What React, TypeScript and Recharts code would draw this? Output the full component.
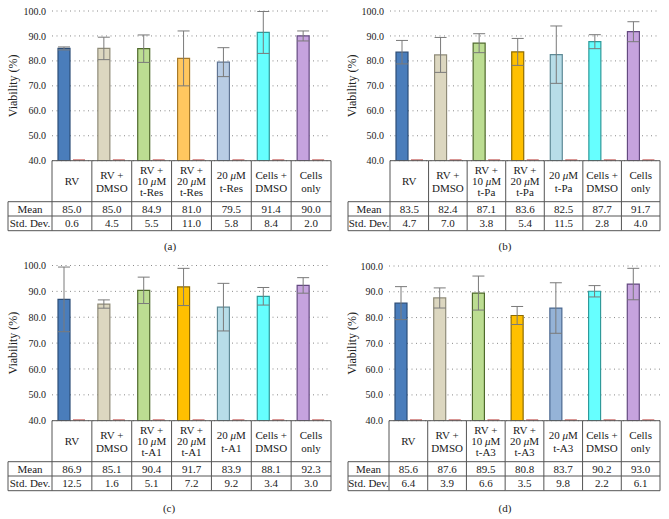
import React from 'react';
import { BarChart, Bar, XAxis, YAxis, CartesianGrid, ErrorBar, Cell } from 'recharts';

const yTicks = [40, 50, 60, 70, 80, 90, 100];

const categoriesA = ['RV', 'RV +\nDMSO', 'RV +\n10 μM\nt-Res', 'RV +\n20 μM\nt-Res', '20 μM\nt-Res', 'Cells +\nDMSO', 'Cells\nonly'];
const meanA = [85.0, 85.0, 84.9, 81.0, 79.5, 91.4, 90.0];
const stdA = [0.6, 4.5, 5.5, 11.0, 5.8, 8.4, 2.0];

const categoriesB = ['RV', 'RV +\nDMSO', 'RV +\n10 μM\nt-Pa', 'RV +\n20 μM\nt-Pa', '20 μM\nt-Pa', 'Cells +\nDMSO', 'Cells\nonly'];
const meanB = [83.5, 82.4, 87.1, 83.6, 82.5, 87.7, 91.7];
const stdB = [4.7, 7.0, 3.8, 5.4, 11.5, 2.8, 4.0];

const categoriesC = ['RV', 'RV +\nDMSO', 'RV +\n10 μM\nt-A1', 'RV +\n20 μM\nt-A1', '20 μM\nt-A1', 'Cells +\nDMSO', 'Cells\nonly'];
const meanC = [86.9, 85.1, 90.4, 91.7, 83.9, 88.1, 92.3];
const stdC = [12.5, 1.6, 5.1, 7.2, 9.2, 3.4, 3.0];

const categoriesD = ['RV', 'RV +\nDMSO', 'RV +\n10 μM\nt-A3', 'RV +\n20 μM\nt-A3', '20 μM\nt-A3', 'Cells +\nDMSO', 'Cells\nonly'];
const meanD = [85.6, 87.6, 89.5, 80.8, 83.7, 90.2, 93.0];
const stdD = [6.4, 3.9, 6.6, 3.5, 9.8, 2.2, 6.1];

const rowLabels = ['Mean', 'Std. Dev.'];

const fillsA = ['#4a7dbb', '#dcd7c0', '#bcdd92', '#ffc75f', '#b8cce4', '#66ffff', '#c6a3de'];
const fillsB = ['#4a7dbb', '#dcd7c0', '#bcdd92', '#ffc000', '#b7dde8', '#66ffff', '#c6a3de'];
const fillsC = ['#4a7dbb', '#dcd7c0', '#bcdd92', '#ffc000', '#b7dde8', '#66ffff', '#c6a3de'];
const fillsD = ['#4a7dbb', '#dcd7c0', '#bcdd92', '#ffc000', '#95b3d7', '#66ffff', '#c6a3de'];
const strokesA = ['#2c4d77', '#8f8b78', '#4f6a2c', '#a67a2a', '#5f7493', '#2f9a9a', '#644a80'];
const strokesB = ['#2c4d77', '#8f8b78', '#4f6a2c', '#8f6c00', '#5e8a96', '#2f9a9a', '#644a80'];
const strokesD = ['#2c4d77', '#8f8b78', '#4f6a2c', '#8f6c00', '#4a6890', '#2f9a9a', '#644a80'];

const FONT = 'Liberation Serif, DejaVu Serif, Noto Serif, serif';
const LINE = '#555';
const HEADER_H = 41;
const MEAN_H = 14.3;
const STD_H = 14.7;
const TABLE_H = HEADER_H + MEAN_H + STD_H;

type Cfg = {
  key: string; left: number; top: number; width: number; height: number;
  plotTop: number; plotBottom: number; plotLeft: number; plotRight: number; tableLeft: number;
  ylabelX: number; captionX: number; captionY: number; caption: string;
  categories: string[]; mean: number[]; std: number[]; fills: string[]; strokes: string[];
};

const panels: Cfg[] = [
  { key: 'a', left: 0, top: 0, width: 335, height: 260, plotTop: 11, plotBottom: 160.7, plotLeft: 52, plotRight: 331, tableLeft: 8,
    ylabelX: 13, captionX: 170, captionY: 246, caption: '(a)', categories: categoriesA, mean: meanA, std: stdA, fills: fillsA, strokes: strokesA },
  { key: 'b', left: 335, top: 0, width: 334, height: 260, plotTop: 11, plotBottom: 160.7, plotLeft: 55, plotRight: 325, tableLeft: 13,
    ylabelX: 17, captionX: 170, captionY: 246, caption: '(b)', categories: categoriesB, mean: meanB, std: stdB, fills: fillsB, strokes: strokesB },
  { key: 'c', left: 0, top: 260, width: 335, height: 259, plotTop: 5.5, plotBottom: 160.7, plotLeft: 52, plotRight: 331, tableLeft: 8,
    ylabelX: 13, captionX: 169, captionY: 248, caption: '(c)', categories: categoriesC, mean: meanC, std: stdC, fills: fillsC, strokes: strokesB },
  { key: 'd', left: 335, top: 260, width: 334, height: 259, plotTop: 6, plotBottom: 160.7, plotLeft: 54, plotRight: 325, tableLeft: 13,
    ylabelX: 17, captionX: 170, captionY: 248, caption: '(d)', categories: categoriesD, mean: meanD, std: stdD, fills: fillsD, strokes: strokesD },
];

function richText(s: string) {
  const parts = s.split('μ');
  return parts.map((p, i) => (
    <React.Fragment key={i}>
      {i > 0 && <tspan fontStyle="italic">μ</tspan>}
      {p}
    </React.Fragment>
  ));
}

function makeTick(cfg: Cfg) {
  return function TableTick(props: any) {
    const { x, y, payload } = props;
    const index = payload?.index ?? props.index ?? 0;
    const n = cfg.categories.length;
    const bw = (cfg.plotRight - cfg.plotLeft) / n;
    const l = x - bw / 2;
    const r = x + bw / 2;
    const y0 = y;
    const y1 = y0 + HEADER_H;
    const y2 = y1 + MEAN_H;
    const y3 = y2 + STD_H;
    const lines = String(cfg.categories[index]).split('\n');
    const spacing = lines.length === 3 ? 11.3 : 13;
    const hc = y0 + HEADER_H / 2;
    const fs = 11;
    const textProps = { textAnchor: 'middle' as const, fontSize: fs, fontFamily: FONT, fill: '#1a1a1a' };
    const els: any[] = [];
    els.push(<line key="t" x1={l} x2={r} y1={y0} y2={y0} stroke={LINE} />);
    els.push(<line key="h1" x1={l} x2={r} y1={y1} y2={y1} stroke={LINE} />);
    els.push(<line key="h2" x1={l} x2={r} y1={y2} y2={y2} stroke={LINE} />);
    els.push(<line key="h3" x1={l} x2={r} y1={y3} y2={y3} stroke={LINE} />);
    els.push(<line key="vr" x1={r} x2={r} y1={y0} y2={y3} stroke={LINE} />);
    lines.forEach((ln, i) => {
      const cy = hc + (i - (lines.length - 1) / 2) * spacing;
      els.push(<text key={'l' + i} x={x} y={cy + fs * 0.35} {...textProps}>{richText(ln)}</text>);
    });
    els.push(<text key="m" x={x} y={(y1 + y2) / 2 + fs * 0.35} {...textProps}>{cfg.mean[index].toFixed(1)}</text>);
    els.push(<text key="s" x={x} y={(y2 + y3) / 2 + fs * 0.35} {...textProps}>{cfg.std[index].toFixed(1)}</text>);
    if (index === 0) {
      const tl = cfg.tableLeft;
      els.push(<line key="vl" x1={l} x2={l} y1={y0} y2={y3} stroke={LINE} />);
      els.push(<line key="rl" x1={tl} x2={tl} y1={y1} y2={y3} stroke={LINE} />);
      els.push(<line key="r1" x1={tl} x2={l} y1={y1} y2={y1} stroke={LINE} />);
      els.push(<line key="r2" x1={tl} x2={l} y1={y2} y2={y2} stroke={LINE} />);
      els.push(<line key="r3" x1={tl} x2={l} y1={y3} y2={y3} stroke={LINE} />);
      els.push(<text key="rm" x={(tl + l) / 2} y={(y1 + y2) / 2 + fs * 0.35} {...textProps}>{rowLabels[0]}</text>);
      els.push(<text key="rs" x={(tl + l) / 2} y={(y2 + y3) / 2 + fs * 0.35} {...textProps}>{rowLabels[1]}</text>);
    }
    return <g>{els}</g>;
  };
}

function BaseDash(props: any) {
  const { x, y, width, height, background } = props;
  const base = background ? background.y + background.height : y + height;
  return <rect x={x} y={base - 1.3} width={width} height={1.3} fill="#c0504d" />;
}

function Panel({ cfg }: { cfg: Cfg }) {
  const data = cfg.categories.map((c, i) => ({ name: c, mean: cfg.mean[i], std: cfg.std[i] }));
  const yAxisWidth = 40;
  const margin = {
    top: cfg.plotTop,
    left: cfg.plotLeft - yAxisWidth,
    right: cfg.width - cfg.plotRight,
    bottom: cfg.height - cfg.plotBottom - TABLE_H,
  };
  const Tick = makeTick(cfg);
  return (
    <div style={{ position: 'absolute', left: cfg.left, top: cfg.top, width: cfg.width, height: cfg.height, fontFamily: FONT }}>
      <BarChart width={cfg.width} height={cfg.height} data={data} margin={margin} barGap={3} style={{ overflow: 'visible', fontFamily: FONT }}>
        <CartesianGrid vertical={false} stroke="#8a8a8a" strokeDasharray="1 3.5" />
        <YAxis
          type="number"
          domain={[40, 100]}
          ticks={yTicks}
          allowDataOverflow
          width={yAxisWidth}
          axisLine={false}
          tickLine={false}
          tickSize={4}
          tickMargin={2}
          tickFormatter={(v: number) => v.toFixed(1)}
          tick={{ fontSize: 10, fontFamily: FONT, fill: '#222' }}
          interval={0}
        />
        <XAxis
          dataKey="name"
          height={TABLE_H}
          axisLine={false}
          tickLine={false}
          tickSize={0}
          tickMargin={0}
          interval={0}
          tick={(p: any) => <Tick {...p} />}
        />
        <Bar dataKey="mean" barSize={12} strokeWidth={1.2} isAnimationActive={false}>
          {data.map((d, i) => (
            <Cell key={i} fill={cfg.fills[i]} stroke={cfg.strokes[i]} />
          ))}
          <ErrorBar dataKey="std" width={6} stroke="#7a7a7a" strokeWidth={1} direction="y" />
        </Bar>
        <Bar dataKey="std" barSize={12} fill="#c0504d" shape={(p: any) => <BaseDash {...p} />} isAnimationActive={false} />
      </BarChart>
      <svg width={cfg.width} height={cfg.height} style={{ position: 'absolute', left: 0, top: 0, pointerEvents: 'none', overflow: 'visible' }}>
        <text
          transform={`translate(${cfg.ylabelX},${(cfg.plotTop + cfg.plotBottom) / 2}) rotate(-90)`}
          textAnchor="middle"
          dominantBaseline="central"
          fontSize={12}
          fontFamily={FONT}
          fill="#222"
        >
          Viability (%)
        </text>
        <text x={cfg.captionX} y={cfg.captionY} textAnchor="middle" dominantBaseline="central" fontSize={11} fontFamily={FONT} fill="#222">
          {cfg.caption}
        </text>
      </svg>
    </div>
  );
}

export default function App() {
  return (
    <div style={{ position: 'absolute', left: 0, top: 0, width: 669, height: 519, background: '#fff', overflow: 'hidden' }}>
      {panels.map((p) => (
        <Panel key={p.key} cfg={p} />
      ))}
    </div>
  );
}
